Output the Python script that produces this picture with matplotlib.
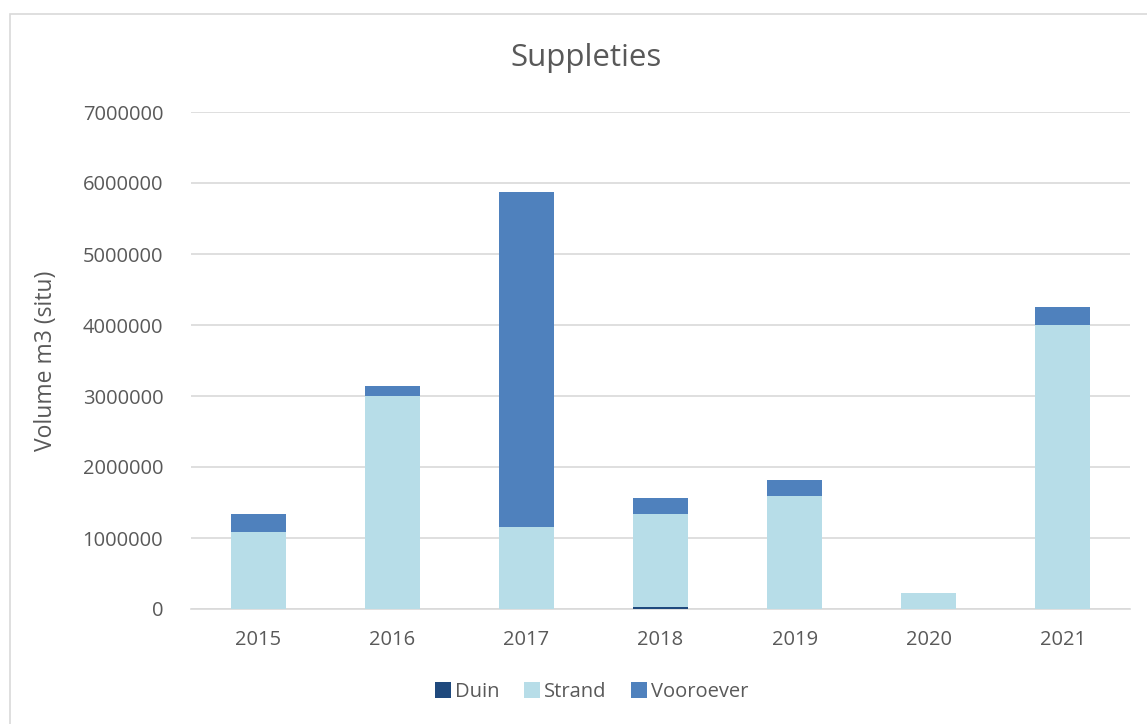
import numpy as np
import matplotlib.pyplot as plt
from matplotlib.patches import Rectangle

# suppletie volumes per jaar (m3 in situ)
jaren = ['2015', '2016', '2017', '2018', '2019', '2020', '2021']
duin = [0, 0, 0, 30000, 0, 0, 0]
strand = [1085000, 3000000, 1155000, 1310000, 1585000, 225000, 4000000]
vooroever = [255000, 140000, 4715000, 220000, 235000, 0, 250000]

kleuren = {'Duin': '#1f497d', 'Strand': '#b7dde8', 'Vooroever': '#4f81bd'}
tekst = '#595959'

plt.rcParams['font.family'] = ['Open Sans', 'DejaVu Sans']

fig = plt.figure(figsize=(11.47, 7.24), dpi=100)
# chart-rand
fig.patches.append(Rectangle((10 / 1147, -0.1), 1.2, (724 - 14) / 724 + 0.1,
                             transform=fig.transFigure, fill=False,
                             edgecolor='#d9d9d9', linewidth=1.2))

ax = fig.add_axes([191 / 1147, 115 / 724, (1130 - 191) / 1147, (609 - 112) / 724])

x = np.arange(len(jaren))
breedte = 0.41
duin = np.array(duin)
strand = np.array(strand)
vooroever = np.array(vooroever)

ax.bar(x, duin, breedte, color=kleuren['Duin'], label='Duin', zorder=3)
ax.bar(x, strand, breedte, bottom=duin, color=kleuren['Strand'], label='Strand', zorder=3)
ax.bar(x, vooroever, breedte, bottom=duin + strand, color=kleuren['Vooroever'],
       label='Vooroever', zorder=3)

ax.set_xlim(-0.5, len(jaren) - 0.5)
ax.set_ylim(0, 7000000)
ax.set_yticks(np.arange(0, 7000001, 1000000))
ax.set_yticklabels([str(v) for v in range(0, 7000001, 1000000)])
ax.set_xticks(x)
ax.set_xticklabels(jaren)
ax.grid(axis='y', color='#d9d9d9', linewidth=1.2, zorder=0)
for s in ['top', 'right', 'left']:
    ax.spines[s].set_visible(False)
ax.spines['bottom'].set_color('#d9d9d9')
ax.spines['bottom'].set_linewidth(1.2)
ax.tick_params(axis='both', length=0, colors=tekst, labelsize=14.5)
ax.tick_params(axis='y', pad=20)
ax.tick_params(axis='x', pad=15)

ax.set_ylabel('Volume m3 (situ)', color=tekst, fontsize=16.5, labelpad=18)
fig.text(0.511, 0.92, 'Suppleties', ha='center', va='center', color=tekst, fontsize=22.5)

fig.legend(loc='center', bbox_to_anchor=(0.516, 0.044), ncol=3, frameon=False,
           fontsize=14.5, labelcolor=tekst, handlelength=0.8, handleheight=0.8,
           handletextpad=0.2, columnspacing=1.2)

fig.savefig('out.png', dpi=100)
